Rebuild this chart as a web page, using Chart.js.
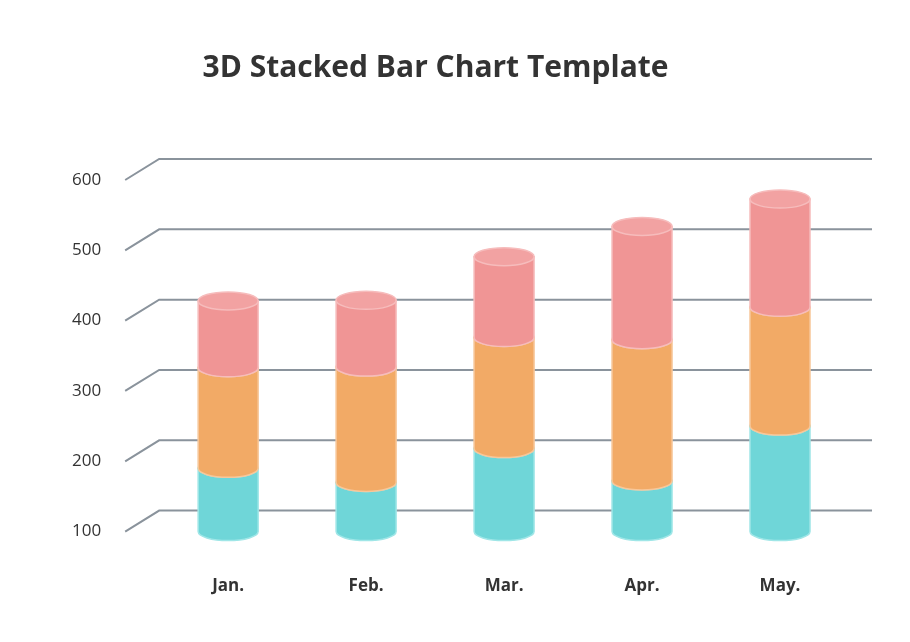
<!DOCTYPE html>
<html>
<head>
<meta charset="utf-8">
<script src="https://cdn.jsdelivr.net/npm/chart.js@4/dist/chart.umd.min.js"></script>
<style>
  body { margin: 0; background: #fff; }
  #wrap { width: 910px; height: 642px; }
</style>
</head>
<body>
<div id="wrap"><canvas id="myChart"></canvas></div>
<script>
const months = ['Jan.', 'Feb.', 'Mar.', 'Apr.', 'May.'];
// first series sits on the 100 baseline, values are absolute tops
const teal = [190, 170, 218, 172, 250];
const orange = [143, 164, 158, 201, 169];
const red = [95, 95, 115, 161, 154];
const yTicks = [100, 200, 300, 400, 500, 600];

const fills = [
    { body: '#6fd6d8', top: '#7fdcde', line: '#9fe6e7' },
    { body: '#f2aa66', top: '#f4b479', line: '#f7c79a' },
    { body: '#f09595', top: '#f2a2a2', line: '#f6bcbc' }
];

const cylinders = {
    id: 'cylinders',
    beforeDatasetsDraw(chart) {
        const ctx = chart.ctx;
        const y = chart.scales.y;
        const area = chart.chartArea;
        ctx.save();
        ctx.strokeStyle = '#8a939c';
        ctx.lineWidth = 2;
        yTicks.forEach(t => {
            const py = y.getPixelForValue(t);
            ctx.beginPath();
            ctx.moveTo(area.left - 34, py);
            ctx.lineTo(area.left, py - 21);
            ctx.lineTo(872, py - 21);
            ctx.stroke();
        });
        ctx.restore();
    },
    afterDatasetsDraw(chart) {
        const ctx = chart.ctx;
        const w = 60, ry = 9;
        ctx.save();
        chart.data.datasets.forEach((ds, i) => {
            const meta = chart.getDatasetMeta(i);
            const c = fills[i];
            meta.data.forEach(el => {
                const x = el.x, top = el.y, bot = el.base;
                ctx.lineWidth = 1.5;
                ctx.fillStyle = c.body;
                ctx.strokeStyle = c.line;
                ctx.beginPath();
                ctx.moveTo(x - w / 2, top);
                ctx.lineTo(x - w / 2, bot);
                ctx.ellipse(x, bot, w / 2, ry, 0, Math.PI, 0, true);
                ctx.lineTo(x + w / 2, top);
                ctx.closePath();
                ctx.fill();
                ctx.stroke();
                ctx.fillStyle = c.top;
                ctx.beginPath();
                ctx.ellipse(x, top, w / 2, ry, 0, 0, Math.PI * 2);
                ctx.fill();
                ctx.stroke();
            });
        });
        ctx.restore();
    }
};

new Chart(document.getElementById('myChart'), {
    type: 'bar',
    data: {
        labels: months,
        datasets: [
            { label: 'A', data: teal, backgroundColor: 'transparent', base: 100 },
            { label: 'B', data: orange, backgroundColor: 'transparent' },
            { label: 'C', data: red, backgroundColor: 'transparent' }
        ]
    },
    options: {
        responsive: true,
        maintainAspectRatio: false,
        animation: false,
        layout: { padding: { left: 22, right: 61, top: 0, bottom: 10 } },
        plugins: {
            legend: { display: false },
            tooltip: { enabled: false },
            title: {
                display: true,
                text: '3D Stacked Bar Chart Template',
                color: '#333',
                font: { size: 30, weight: 'bold', family: 'Open Sans' },
                padding: { top: 50, bottom: 94 }
            }
        },
        scales: {
            x: {
                stacked: true,
                grid: { display: false },
                border: { display: false },
                ticks: { color: '#333', padding: 36, font: { size: 17, weight: 'bold', family: 'Open Sans' } }
            },
            y: {
                stacked: true,
                min: 100,
                max: 600,
                afterBuildTicks: s => { s.ticks = yTicks.map(v => ({ value: v })); },
                grid: { display: false },
                border: { display: false },
                ticks: { color: '#333', padding: 50, font: { size: 17, family: 'Open Sans' } }
            }
        }
    },
    plugins: [cylinders]
});
</script>
</body>
</html>
